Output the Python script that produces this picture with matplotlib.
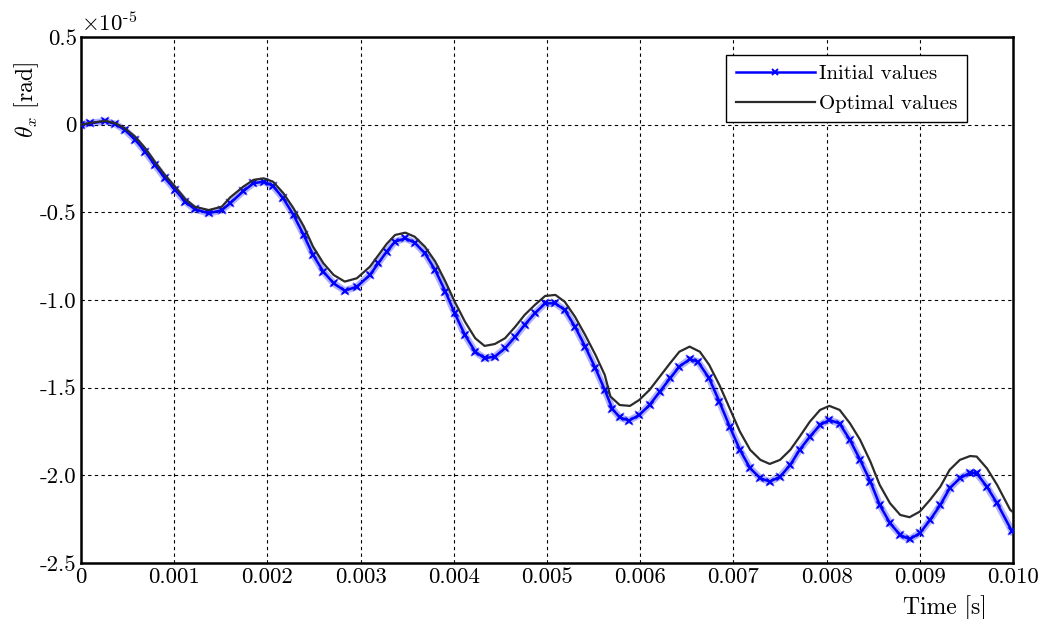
import numpy as np
import matplotlib
matplotlib.use('Agg')
import matplotlib.pyplot as plt

plt.rcParams['font.family'] = 'serif'
plt.rcParams['font.serif'] = ['cmr10']
plt.rcParams['mathtext.fontset'] = 'cm'
plt.rcParams['axes.unicode_minus'] = False
plt.rcParams['axes.formatter.use_mathtext'] = True

# time [s] and theta_x [x1e-5 rad]
t_opt = [0, 0.00010, 0.00026, 0.00037, 0.00047, 0.00058, 0.00069, 0.00079, 0.00090, 0.00101,
         0.00112, 0.00122, 0.00137, 0.00151, 0.00160, 0.00174, 0.00185, 0.00196, 0.00206, 0.00217,
         0.00228, 0.00239, 0.00249, 0.00260, 0.00271, 0.00283, 0.00296, 0.00310, 0.00319, 0.00328,
         0.00337, 0.00348, 0.00358, 0.00369, 0.00380, 0.00391, 0.00401, 0.00412, 0.00423, 0.00433,
         0.00444, 0.00455, 0.00466, 0.00476, 0.00487, 0.00498, 0.00509, 0.00519, 0.00530, 0.00541,
         0.00552, 0.00562, 0.00568, 0.00578, 0.00589, 0.00599, 0.00610, 0.00621, 0.00632, 0.00642,
         0.00653, 0.00664, 0.00674, 0.00685, 0.00696, 0.00707, 0.00718, 0.00729, 0.00739, 0.00750,
         0.00761, 0.00771, 0.00782, 0.00793, 0.00803, 0.00814, 0.00825, 0.00836, 0.00847, 0.00857,
         0.00868, 0.00879, 0.00889, 0.00900, 0.00911, 0.00922, 0.00932, 0.00943, 0.00954, 0.00961,
         0.00972, 0.00983, 0.00997, 0.01000]
th_opt = [0.000, 0.010, 0.022, 0.008, -0.020, -0.068, -0.135, -0.210, -0.287, -0.354,
          -0.425, -0.468, -0.487, -0.468, -0.415, -0.354, -0.315, -0.306, -0.325, -0.390,
          -0.477, -0.580, -0.696, -0.790, -0.857, -0.895, -0.876, -0.810, -0.745, -0.680,
          -0.629, -0.616, -0.639, -0.696, -0.780, -0.895, -1.010, -1.124, -1.218, -1.262,
          -1.251, -1.218, -1.152, -1.085, -1.028, -0.977, -0.971, -1.010, -1.095, -1.200,
          -1.313, -1.428, -1.550, -1.599, -1.604, -1.570, -1.513, -1.437, -1.361, -1.295,
          -1.266, -1.295, -1.370, -1.485, -1.618, -1.751, -1.855, -1.912, -1.935, -1.912,
          -1.855, -1.780, -1.694, -1.627, -1.604, -1.627, -1.703, -1.798, -1.922, -2.055,
          -2.159, -2.226, -2.239, -2.207, -2.140, -2.065, -1.969, -1.912, -1.890, -1.893,
          -1.960, -2.055, -2.197, -2.210]

t_init = [0, 0.00010, 0.00026, 0.00037, 0.00047, 0.00058, 0.00069, 0.00079, 0.00090, 0.00101,
          0.00112, 0.00122, 0.00137, 0.00151, 0.00160, 0.00174, 0.00185, 0.00196, 0.00206, 0.00217,
          0.00228, 0.00239, 0.00249, 0.00260, 0.00271, 0.00283, 0.00296, 0.00310, 0.00319, 0.00328,
          0.00337, 0.00348, 0.00358, 0.00369, 0.00380, 0.00391, 0.00401, 0.00412, 0.00423, 0.00433,
          0.00444, 0.00455, 0.00466, 0.00476, 0.00487, 0.00498, 0.00509, 0.00519, 0.00530, 0.00541,
          0.00552, 0.00562, 0.00570, 0.00578, 0.00588, 0.00599, 0.00610, 0.00621, 0.00632, 0.00642,
          0.00653, 0.00662, 0.00674, 0.00685, 0.00696, 0.00707, 0.00718, 0.00729, 0.00739, 0.00750,
          0.00761, 0.00771, 0.00782, 0.00793, 0.00803, 0.00814, 0.00825, 0.00836, 0.00847, 0.00857,
          0.00868, 0.00879, 0.00889, 0.00900, 0.00911, 0.00922, 0.00932, 0.00943, 0.00954, 0.00961,
          0.00972, 0.00983, 0.00999]
th_init = [0.000, 0.008, 0.020, 0.003, -0.030, -0.085, -0.155, -0.228, -0.305, -0.372,
           -0.440, -0.482, -0.505, -0.488, -0.448, -0.380, -0.334, -0.325, -0.350, -0.420,
           -0.515, -0.630, -0.743, -0.838, -0.905, -0.947, -0.924, -0.857, -0.790, -0.724,
           -0.667, -0.648, -0.673, -0.734, -0.829, -0.952, -1.076, -1.200, -1.295, -1.332,
           -1.323, -1.275, -1.209, -1.142, -1.076, -1.019, -1.019, -1.057, -1.152, -1.266,
           -1.390, -1.513, -1.620, -1.670, -1.688, -1.656, -1.599, -1.523, -1.447, -1.380,
           -1.338, -1.352, -1.447, -1.580, -1.722, -1.855, -1.960, -2.017, -2.036, -2.008,
           -1.941, -1.855, -1.780, -1.713, -1.684, -1.705, -1.798, -1.912, -2.036, -2.169,
           -2.273, -2.340, -2.365, -2.330, -2.255, -2.169, -2.074, -2.017, -1.985, -1.988,
           -2.065, -2.160, -2.320]

xticks = [0, 0.001, 0.002, 0.003, 0.004, 0.005, 0.006, 0.007, 0.008, 0.009, 0.010]
xlabels = ['0', '0.001', '0.002', '0.003', '0.004', '0.005', '0.006', '0.007', '0.008', '0.009', '0.010']
yticks = [0.5, 0, -0.5, -1.0, -1.5, -2.0, -2.5]
ylabels = ['0.5', '0', '-0.5', '-1.0', '-1.5', '-2.0', '-2.5']

fig = plt.figure(figsize=(10.44, 6.19), dpi=100)
ax = fig.add_axes([0.0776, 0.0905, 0.8927, 0.8497])

# blue band + markers for initial values
ax.plot(t_init, th_init, '-', color='blue', lw=5, alpha=0.3, zorder=2)
ax.plot(t_init, th_init, 'x', color='#3a3aff', ms=5.5, mew=1.2, alpha=0.8, zorder=3)
ax.plot(t_init, th_init, '-', color='blue', lw=1.8, marker='x', ms=4, mew=1.4,
        label='Initial values', zorder=3)
ax.plot(t_opt, th_opt, '-', color='#2b2b2b', lw=1.6, label='Optimal values', zorder=4)

ax.set_xlim(0, 0.010)
ax.set_ylim(-2.5, 0.5)
ax.set_xticks(xticks)
ax.set_xticklabels(xlabels)
ax.set_yticks(yticks)
ax.set_yticklabels(ylabels)
ax.tick_params(length=0, labelsize=16.5, pad=3)
ax.grid(True, color='black', ls=(0, (3, 3)), lw=0.8)
for s in ax.spines.values():
    s.set_linewidth(1.8)

ax.set_xlabel('Time [s]', fontsize=17)
ax.xaxis.set_label_coords(0.927, -0.062)
ax.set_ylabel(r'$\theta_x$ [rad]', fontsize=17)
ax.yaxis.set_label_coords(-0.043, 0.88)
ax.text(0.0, 1.004, r'$\times10^{\text{-5}}$', transform=ax.transAxes, fontsize=16.5,
        ha='left', va='bottom')

leg = ax.legend(loc='upper right', bbox_to_anchor=(0.9506, 0.9658), fontsize=15,
                fancybox=False, edgecolor='black', framealpha=1, borderaxespad=0,
                handlelength=3.8, numpoints=1, handletextpad=0.2, borderpad=0.45,
                labelspacing=0.55)
leg.get_frame().set_linewidth(1.0)

fig.savefig('out.png', dpi=100)
